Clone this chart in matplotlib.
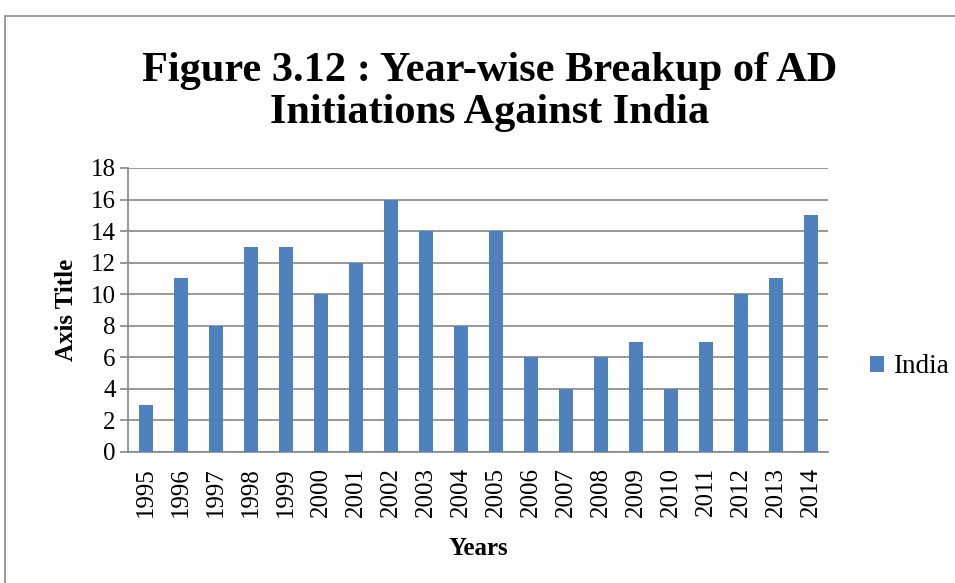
import matplotlib
matplotlib.use("Agg")
import matplotlib.pyplot as plt
from matplotlib.patches import Rectangle

years = ["1995", "1996", "1997", "1998", "1999", "2000", "2001", "2002", "2003", "2004",
         "2005", "2006", "2007", "2008", "2009", "2010", "2011", "2012", "2013", "2014"]
india = [3, 11, 8, 13, 13, 10, 12, 16, 14, 8, 14, 6, 4, 6, 7, 4, 7, 10, 11, 15]
yticks = list(range(0, 19, 2))

plt.rcParams['font.family'] = ['Liberation Serif', 'DejaVu Serif']

W, H = 955, 583
fig = plt.figure(figsize=(W / 100, H / 100), dpi=100)

# outer chart border (cut off on right and bottom)
fig.patches.append(Rectangle((5 / W, -0.1), 1.2, 1 - 16 / H + 0.1, transform=fig.transFigure,
                             fill=False, edgecolor='#8c8c8c', linewidth=1.2))

ax = fig.add_axes([128 / W, 1 - 452 / H, (828 - 128) / W, (452 - 168) / H])
x = list(range(len(years)))
ax.bar(x, india, width=0.4, color='#4F81BD', label='India', zorder=3)
ax.set_xlim(-0.5, len(years) - 0.5)
ax.set_ylim(0, 18)
ax.set_yticks(yticks)
ax.set_yticklabels([str(t) for t in yticks], fontsize=18)
ax.set_xticks(x)
ax.set_xticklabels(years, rotation=90, fontsize=18)
ax.tick_params(axis='x', length=0, pad=11)
ax.tick_params(axis='y', length=6, width=1.2, color='#868686', pad=3)
ax.yaxis.grid(True, color='#868686', linewidth=1.2, zorder=0)
for s in ['top', 'right']:
    ax.spines[s].set_visible(False)
for s in ['left', 'bottom']:
    ax.spines[s].set_color('#868686')
    ax.spines[s].set_linewidth(1.2)

ax.set_ylabel('Axis Title', fontsize=18, fontweight='bold', labelpad=9)
ax.set_xlabel('Years', fontsize=18, fontweight='bold', labelpad=14)

fig.text(490 / W, 1 - 92 / H, 'Figure 3.12 : Year-wise Breakup of AD\nInitiations Against India',
         ha='center', va='center', fontsize=30.5, fontweight='bold', linespacing=1.12)

leg = ax.legend(loc='center left', bbox_to_anchor=(1.04, 0.30), frameon=False, fontsize=19.5,
                handlelength=0.55, handleheight=0.55, handletextpad=0.3, borderpad=0)

fig.savefig('out.png', dpi=100)
